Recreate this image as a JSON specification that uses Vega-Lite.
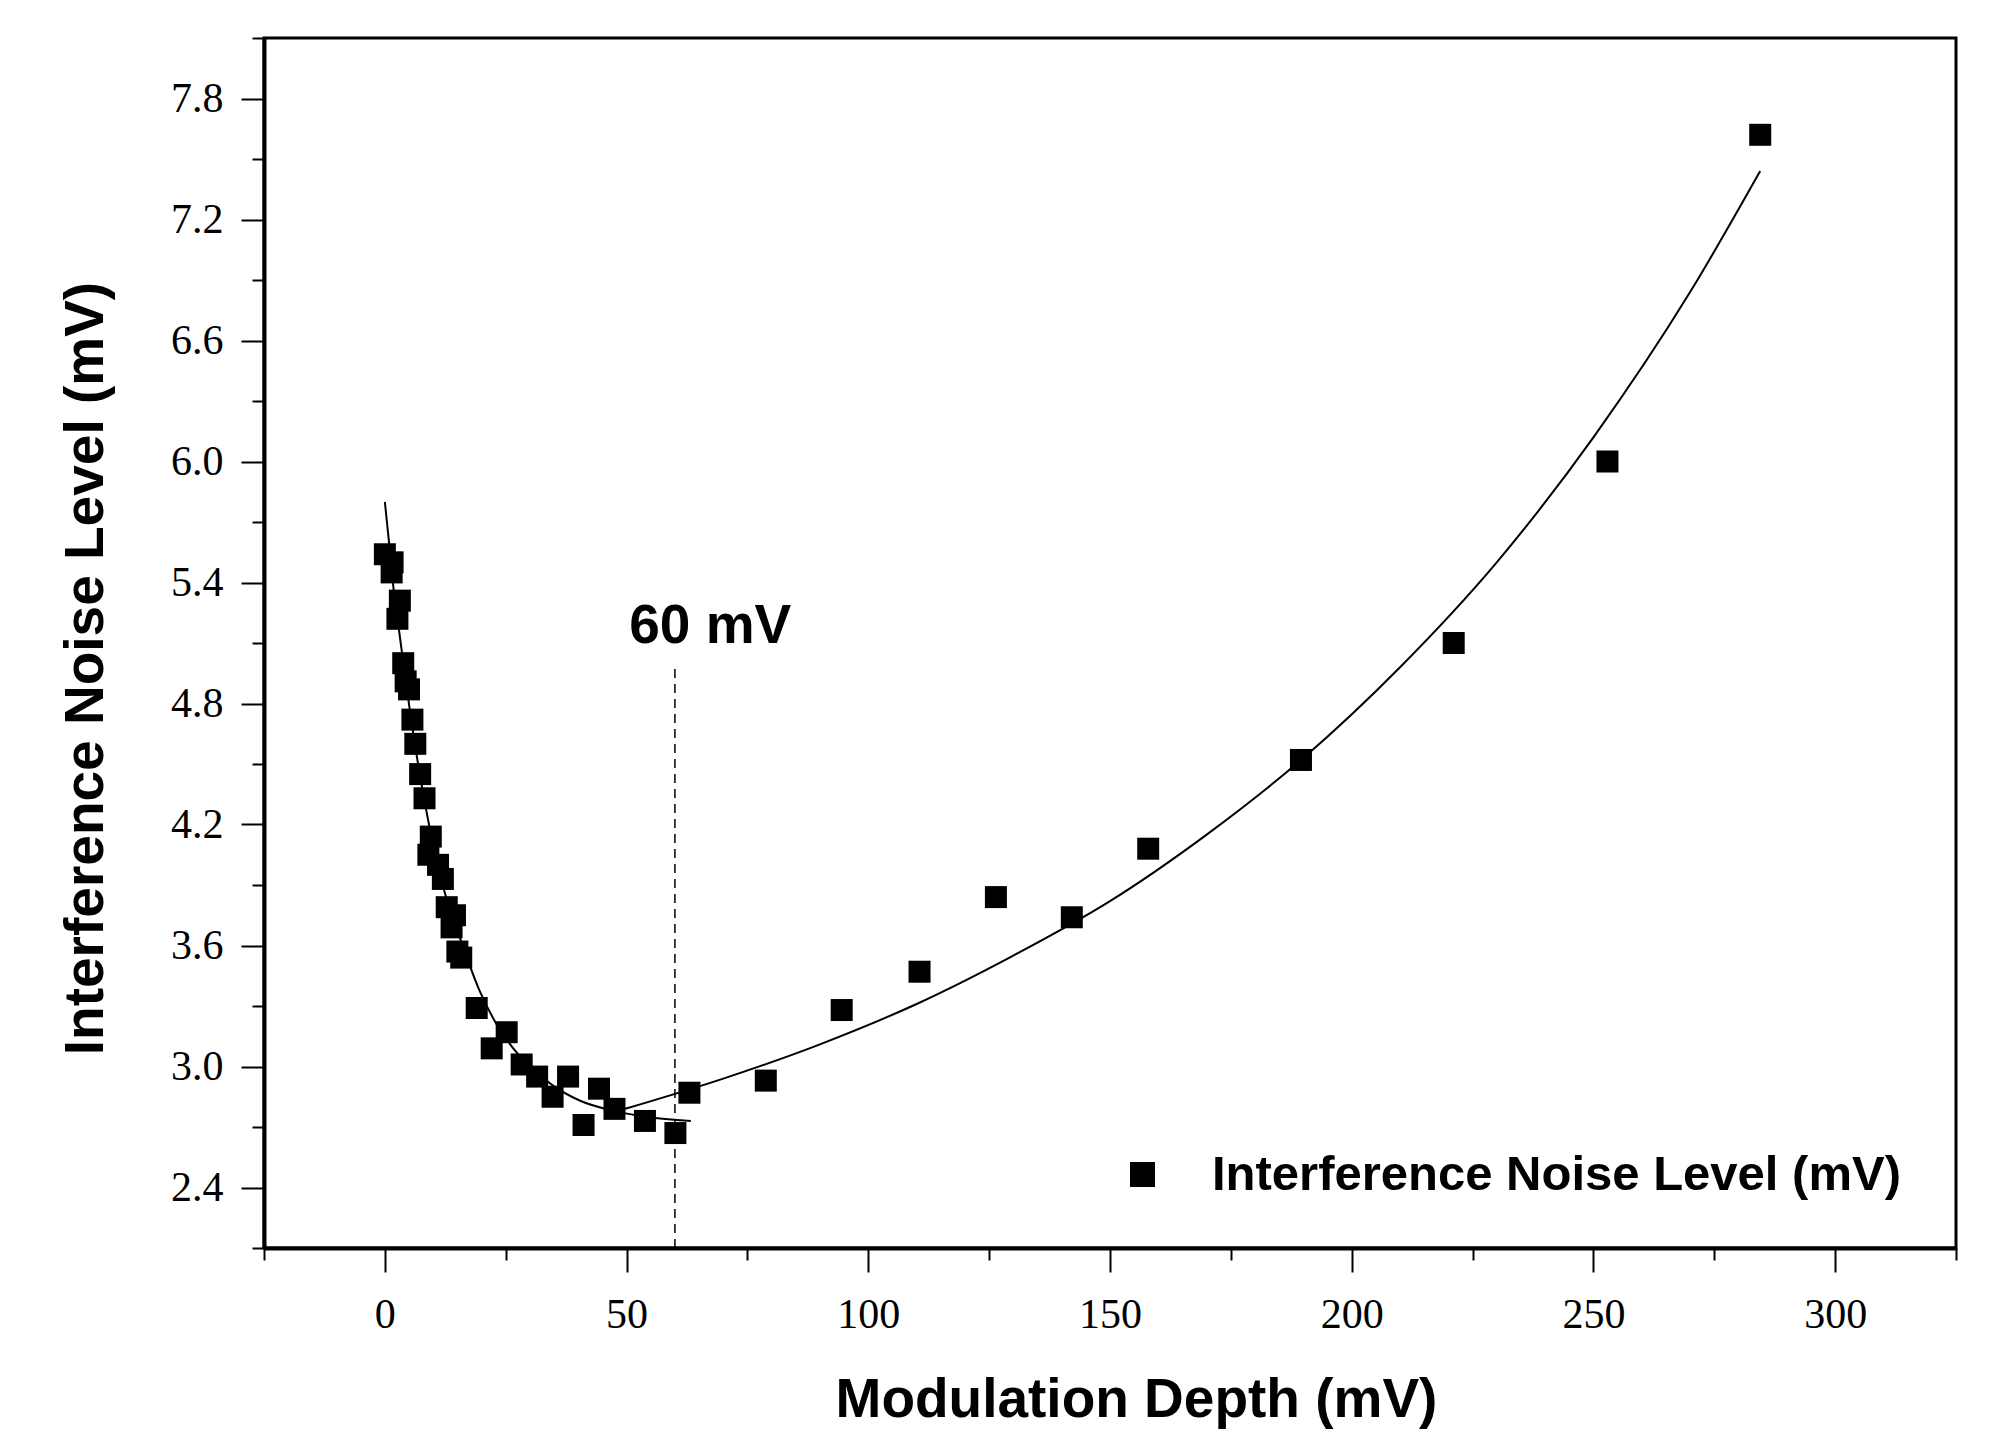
{
  "$schema": "https://vega.github.io/schema/vega-lite/v6.json",
  "width": 1692,
  "height": 1210,
  "autosize": {"type": "none"},
  "padding": {"left": 264, "top": 38, "right": 38, "bottom": 203},
  "background": "white",
  "config": {
    "view": {"stroke": "black", "strokeWidth": 3},
    "axis": {"grid": false, "domainColor": "black", "tickColor": "black", "labelColor": "black", "titleColor": "black"}
  },
  "datasets": {
    "points": [
      {"x": 0.0, "y": 5.54}, {"x": 1.6, "y": 5.50}, {"x": 1.4, "y": 5.45}, {"x": 3.1, "y": 5.31},
      {"x": 2.6, "y": 5.22}, {"x": 3.8, "y": 5.00}, {"x": 4.3, "y": 4.91}, {"x": 5.0, "y": 4.87},
      {"x": 5.7, "y": 4.72}, {"x": 6.3, "y": 4.60}, {"x": 7.3, "y": 4.45}, {"x": 8.2, "y": 4.33},
      {"x": 9.5, "y": 4.14}, {"x": 9.0, "y": 4.05}, {"x": 11.0, "y": 4.00}, {"x": 12.0, "y": 3.93},
      {"x": 12.8, "y": 3.79}, {"x": 14.5, "y": 3.75}, {"x": 13.8, "y": 3.69}, {"x": 15.0, "y": 3.57},
      {"x": 15.8, "y": 3.54}, {"x": 19.0, "y": 3.29}, {"x": 25.2, "y": 3.17}, {"x": 22.1, "y": 3.09},
      {"x": 28.3, "y": 3.01}, {"x": 31.5, "y": 2.95}, {"x": 37.9, "y": 2.95}, {"x": 34.7, "y": 2.85},
      {"x": 44.3, "y": 2.89}, {"x": 41.1, "y": 2.71}, {"x": 47.5, "y": 2.79}, {"x": 53.8, "y": 2.73},
      {"x": 60.1, "y": 2.67}, {"x": 63.0, "y": 2.87}, {"x": 78.8, "y": 2.93}, {"x": 94.5, "y": 3.28},
      {"x": 110.6, "y": 3.47}, {"x": 126.4, "y": 3.84}, {"x": 142.1, "y": 3.74}, {"x": 157.9, "y": 4.08},
      {"x": 189.5, "y": 4.52}, {"x": 221.1, "y": 5.10}, {"x": 252.9, "y": 6.00}, {"x": 284.5, "y": 7.62}
    ],
    "fits": [
      {"curve": "decay", "x": 0.0, "y": 5.80}, {"curve": "decay", "x": 0.9, "y": 5.59},
      {"curve": "decay", "x": 1.75, "y": 5.38}, {"curve": "decay", "x": 3.0, "y": 5.15},
      {"curve": "decay", "x": 4.85, "y": 4.82}, {"curve": "decay", "x": 6.6, "y": 4.54},
      {"curve": "decay", "x": 8.8, "y": 4.24}, {"curve": "decay", "x": 12.3, "y": 3.87},
      {"curve": "decay", "x": 15.5, "y": 3.64}, {"curve": "decay", "x": 19.7, "y": 3.37},
      {"curve": "decay", "x": 23.1, "y": 3.21}, {"curve": "decay", "x": 26.9, "y": 3.08},
      {"curve": "decay", "x": 30.5, "y": 2.99}, {"curve": "decay", "x": 34.5, "y": 2.91},
      {"curve": "decay", "x": 40.4, "y": 2.83}, {"curve": "decay", "x": 47.3, "y": 2.78},
      {"curve": "decay", "x": 54.2, "y": 2.75}, {"curve": "decay", "x": 63.3, "y": 2.73},
      {"curve": "growth", "x": 49.7, "y": 2.79}, {"curve": "growth", "x": 70, "y": 2.94},
      {"curve": "growth", "x": 90, "y": 3.11}, {"curve": "growth", "x": 110, "y": 3.31},
      {"curve": "growth", "x": 130, "y": 3.55}, {"curve": "growth", "x": 150, "y": 3.82},
      {"curve": "growth", "x": 170, "y": 4.15}, {"curve": "growth", "x": 190, "y": 4.53},
      {"curve": "growth", "x": 210, "y": 4.98}, {"curve": "growth", "x": 230, "y": 5.50},
      {"curve": "growth", "x": 250, "y": 6.12}, {"curve": "growth", "x": 270, "y": 6.84},
      {"curve": "growth", "x": 284.5, "y": 7.44}
    ],
    "vline": [{"x": 60, "y": 2.1, "y2": 5.0}],
    "annot": [{"x": 67.3, "y": 5.1, "label": "60 mV"}]
  },
  "resolve": {"axis": {"x": "independent", "y": "independent"}},
  "layer": [
    {
      "data": {"name": "fits"},
      "mark": {"type": "line", "color": "black", "strokeWidth": 2, "interpolate": "monotone"},
      "encoding": {
        "x": {"field": "x", "type": "quantitative", "scale": {"domain": [-25, 325], "nice": false, "zero": false},
          "axis": {"orient": "bottom", "values": [-25, 25, 75, 125, 175, 225, 275, 325], "labels": false, "domain": false, "title": null, "tickSize": 12, "tickWidth": 2, "grid": false}},
        "y": {"field": "y", "type": "quantitative", "scale": {"domain": [2.1, 8.1], "nice": false, "zero": false},
          "axis": {"orient": "left", "values": [2.1, 2.7, 3.3, 3.9, 4.5, 5.1, 5.7, 6.3, 6.9, 7.5, 8.1], "labels": false, "domain": false, "title": null, "tickSize": 12, "tickWidth": 2, "grid": false}},
        "detail": {"field": "curve", "type": "nominal"}
      }
    },
    {
      "data": {"name": "vline"},
      "mark": {"type": "rule", "color": "black", "strokeWidth": 1.5, "strokeDash": [9, 6]},
      "encoding": {
        "x": {"field": "x", "type": "quantitative", "scale": {"domain": [-25, 325], "nice": false, "zero": false}, "axis": null},
        "y": {"field": "y", "type": "quantitative", "scale": {"domain": [2.1, 8.1], "nice": false, "zero": false}, "axis": null},
        "y2": {"field": "y2"}
      }
    },
    {
      "data": {"name": "annot"},
      "mark": {"type": "text", "font": "Liberation Sans", "fontWeight": "bold", "fontSize": 55, "align": "center", "baseline": "alphabetic", "color": "black"},
      "encoding": {
        "x": {"field": "x", "type": "quantitative", "scale": {"domain": [-25, 325], "nice": false, "zero": false}, "axis": null},
        "y": {"field": "y", "type": "quantitative", "scale": {"domain": [2.1, 8.1], "nice": false, "zero": false}, "axis": null},
        "text": {"field": "label"}
      }
    },
    {
      "data": {"name": "points"},
      "mark": {"type": "square", "size": 484, "opacity": 1, "filled": true},
      "encoding": {
        "x": {"field": "x", "type": "quantitative", "scale": {"domain": [-25, 325], "nice": false, "zero": false},
          "axis": {"orient": "bottom", "values": [0, 50, 100, 150, 200, 250, 300], "format": "d", "title": "Modulation Depth (mV)",
            "titleFont": "Liberation Sans", "titleFontWeight": "bold", "titleFontSize": 55, "titlePadding": 38, "titleX": 872,
            "labelFont": "Liberation Serif", "labelFontSize": 42, "labelPadding": 22, "labelFlush": false, "labelOverlap": false,
            "tickSize": 24, "tickWidth": 2, "domainWidth": 4, "grid": false}},
        "y": {"field": "y", "type": "quantitative", "scale": {"domain": [2.1, 8.1], "nice": false, "zero": false},
          "axis": {"orient": "left", "values": [2.4, 3.0, 3.6, 4.2, 4.8, 5.4, 6.0, 6.6, 7.2, 7.8], "format": ".1f", "title": "Interference Noise Level (mV)",
            "titleFont": "Liberation Sans", "titleFontWeight": "bold", "titleFontSize": 55, "titlePadding": 56, "titleY": 630,
            "labelFont": "Liberation Serif", "labelFontSize": 42, "labelPadding": 18, "labelFlush": false, "labelOverlap": false,
            "tickSize": 23, "tickWidth": 2, "domainWidth": 4, "grid": false}},
        "color": {"datum": "Interference Noise Level (mV)", "type": "nominal",
          "scale": {"range": ["black"]},
          "legend": {"title": null, "orient": "none", "legendX": 854, "legendY": 1112, "padding": 0,
            "symbolType": "square", "symbolSize": 625, "symbolStrokeWidth": 0,
            "labelFont": "Liberation Sans", "labelFontWeight": "bold", "labelFontSize": 49, "labelOffset": 45, "labelLimit": 1000, "labelColor": "black"}}
      }
    }
  ]
}
